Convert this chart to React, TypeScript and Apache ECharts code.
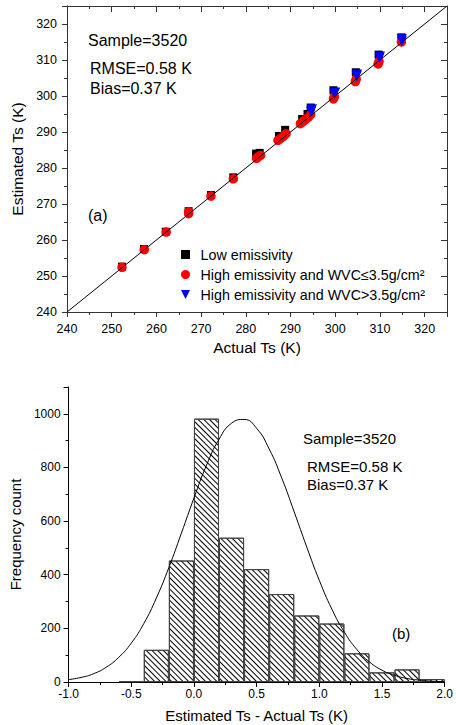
import React, { useEffect, useRef } from 'react';
import * as echarts from 'echarts';

const FONT = '"Liberation Sans", Arial, Helvetica, sans-serif';

// ---------- Panel (a): estimated vs actual Ts ----------
const lowActual = [252.3, 257.2, 262.1, 267.2, 272.2, 277.2, 282.3, 283.1, 287.4, 288.8, 292.6, 293.8, 294.5, 299.6, 304.6, 309.7, 314.8];
const lowEst = [252.6, 257.5, 262.3, 268.0, 272.5, 277.4, 284.0, 284.2, 288.9, 290.6, 293.6, 295.0, 296.8, 301.6, 306.6, 311.5, 316.3];

const dryActual = [252.3, 257.3, 262.2, 267.2, 267.2, 272.2, 277.2, 282.4, 282.8, 283.3, 287.2, 287.8, 288.4, 289.0, 292.2, 292.8, 293.4, 294.0, 294.5, 299.6, 299.8, 304.5, 304.7, 309.6, 309.8, 314.8];
const dryEst = [252.4, 257.3, 262.2, 267.3, 267.8, 272.2, 277.0, 282.7, 283.1, 283.5, 287.7, 288.2, 288.8, 289.5, 292.3, 292.9, 293.5, 294.1, 294.8, 299.2, 299.8, 304.0, 304.7, 308.9, 309.6, 315.0];

const wetActual = [294.6, 294.8, 299.8, 300.0, 304.8, 304.9, 309.9, 310.0, 314.9, 314.9];
const wetEst = [295.6, 296.3, 300.6, 301.0, 305.5, 306.0, 310.5, 311.0, 315.2, 315.8];

const oneToOne = [240, 325];

const seriesNames = [
  'Low emissivity',
  'High emissivity and WVC≤3.5g/cm²',
  'High emissivity and WVC>3.5g/cm²',
];

// ---------- Panel (b): histogram of differences ----------
const binStarts = [-1.0, -0.8, -0.6, -0.4, -0.2, 0.0, 0.2, 0.4, 0.6, 0.8, 1.0, 1.2, 1.4, 1.6, 1.8];
const binCounts = [0, 0, 3, 120, 453, 982, 538, 421, 328, 248, 218, 107, 36, 47, 11];

const fitX = [-1.0, -0.9, -0.8, -0.7, -0.6, -0.5, -0.4, -0.3, -0.2, -0.1, 0.0, 0.1, 0.2, 0.3, 0.4, 0.5, 0.6, 0.7, 0.8, 0.9, 1.0, 1.1, 1.2, 1.3, 1.4, 1.5, 1.6, 1.7, 1.8, 1.9, 2.0];
const fitY = [9, 17, 31, 55, 92, 145, 218, 313, 427, 555, 686, 808, 905, 965, 979, 946, 869, 761, 634, 503, 379, 272, 186, 121, 75, 44, 25, 13, 7, 3, 1.5];

const zip = (a: number[], b: number[]) => a.map((v, i) => [v, b[i]]);

const boxColor = '#333';
const blk = '#000';
const SQUARE = 'path://M0,0 L10,0 L10,10 L0,10 Z';
const TRI_DOWN = 'path://M0,0 L10,0 L5,10 Z';

function makeOption(): any {
  const textBase = { fontFamily: FONT, fill: '#000' };
  return {
    animation: false,
    textStyle: { fontFamily: FONT },
    grid: [
      { left: 67, top: 6, width: 380, height: 306 },
      { left: 53, top: 387, width: 397, height: 295 },
    ],
    legend: {
      data: seriesNames,
      orient: 'vertical',
      left: 181,
      top: 247,
      padding: 0,
      itemWidth: 20,
      itemHeight: 9,
      itemGap: 5,
      symbolKeepAspect: true,
      textStyle: { fontSize: 14.3, color: '#000', fontFamily: FONT, lineHeight: 15 },
    },
    xAxis: [
      {
        gridIndex: 0, type: 'value', min: 240, max: 325, interval: 10, position: 'bottom',
        name: 'Actual Ts (K)', nameLocation: 'middle', nameGap: 27,
        nameTextStyle: { fontSize: 15.5, color: '#000', fontFamily: FONT },
        axisLine: { onZero: false, lineStyle: { color: boxColor, width: 1 } },
        axisTick: { inside: false, length: 5, lineStyle: { color: boxColor } },
        minorTick: { show: true, splitNumber: 2, length: 3, lineStyle: { color: boxColor } },
        axisLabel: { fontSize: 12.5, color: '#000', margin: 10, showMaxLabel: false, fontFamily: FONT },
        splitLine: { show: false },
      },
      {
        gridIndex: 0, type: 'value', min: 240, max: 325, interval: 10, position: 'top',
        axisLine: { onZero: false, lineStyle: { color: boxColor, width: 1 } },
        axisTick: { inside: true, length: 6, lineStyle: { color: boxColor } },
        minorTick: { show: true, splitNumber: 2, length: 3, lineStyle: { color: boxColor } },
        axisLabel: { show: false },
        splitLine: { show: false },
      },
      {
        gridIndex: 1, type: 'value', min: -1, max: 2, interval: 0.5, position: 'bottom',
        name: 'Estimated Ts - Actual Ts (K)', nameLocation: 'middle', nameGap: 26,
        nameTextStyle: { fontSize: 15, color: '#000', fontFamily: FONT },
        axisLine: { onZero: false, lineStyle: { color: blk, width: 1 } },
        axisTick: { inside: false, length: 5, lineStyle: { color: blk } },
        minorTick: { show: true, splitNumber: 2, length: 3, lineStyle: { color: blk } },
        axisLabel: { fontSize: 12, color: '#000', margin: 6, fontFamily: FONT, formatter: (v: number) => v.toFixed(1) },
        splitLine: { show: false },
      },
      {
        gridIndex: 1, type: 'category', data: binStarts.map((b) => b.toFixed(1)), show: false, boundaryGap: true,
      },
    ],
    yAxis: [
      {
        gridIndex: 0, type: 'value', min: 240, max: 325, interval: 10, position: 'left',
        name: 'Estimated Ts (K)', nameLocation: 'middle', nameGap: 32,
        nameTextStyle: { fontSize: 15.5, color: '#000', fontFamily: FONT },
        axisLine: { onZero: false, lineStyle: { color: boxColor, width: 1 } },
        axisTick: { inside: false, length: 5, lineStyle: { color: boxColor } },
        minorTick: { show: true, splitNumber: 2, length: 3, lineStyle: { color: boxColor } },
        axisLabel: { fontSize: 12.5, color: '#000', margin: 10, showMaxLabel: false, fontFamily: FONT },
        splitLine: { show: false },
      },
      {
        gridIndex: 0, type: 'value', min: 240, max: 325, interval: 10, position: 'right',
        axisLine: { show: true, onZero: false, lineStyle: { color: boxColor, width: 1 } },
        axisTick: { show: true, inside: true, length: 6, lineStyle: { color: boxColor } },
        minorTick: { show: true, splitNumber: 2, length: 3, lineStyle: { color: boxColor } },
        axisLabel: { show: false },
        splitLine: { show: false },
      },
      {
        gridIndex: 1, type: 'value', min: 0, max: 1100, interval: 200, position: 'left',
        name: 'Frequency count', nameLocation: 'middle', nameGap: 42,
        nameTextStyle: { fontSize: 15, color: '#000', fontFamily: FONT },
        axisLine: { show: true, onZero: false, lineStyle: { color: blk, width: 1 } },
        axisTick: { show: true, inside: false, length: 5, lineStyle: { color: blk } },
        minorTick: { show: true, splitNumber: 2, length: 3, lineStyle: { color: blk } },
        axisLabel: { fontSize: 12, color: '#000', margin: 8, showMaxLabel: false, fontFamily: FONT, formatter: (v: number) => String(v) },
        splitLine: { show: false },
      },
    ],
    series: [
      {
        name: seriesNames[0], type: 'scatter', xAxisIndex: 0, yAxisIndex: 0,
        symbol: SQUARE, symbolSize: 8, itemStyle: { color: '#000', opacity: 1 },
        data: zip(lowActual, lowEst), z: 2,
      },
      {
        name: seriesNames[1], type: 'scatter', xAxisIndex: 0, yAxisIndex: 0,
        symbol: 'circle', symbolSize: 9.5, itemStyle: { color: '#ff0000', opacity: 1 },
        data: zip(dryActual, dryEst), z: 3,
      },
      {
        name: seriesNames[2], type: 'scatter', xAxisIndex: 0, yAxisIndex: 0,
        symbol: TRI_DOWN, symbolSize: [10, 10], itemStyle: { color: '#0000ff', opacity: 1 },
        data: zip(wetActual, wetEst), z: 4,
      },
      {
        name: '1:1 line', type: 'line', xAxisIndex: 0, yAxisIndex: 0,
        data: zip(oneToOne, oneToOne), symbol: 'none', silent: true,
        lineStyle: { color: '#000', width: 1 }, z: 5,
      },
      {
        name: 'Histogram', type: 'bar', xAxisIndex: 3, yAxisIndex: 2,
        data: binCounts.map((c) => (c > 0 ? c : '-')),
        barWidth: '100%', barCategoryGap: '0%',
        itemStyle: {
          color: '#ffffff', borderColor: '#444', borderWidth: 1,
          decal: {
            symbol: 'rect', symbolSize: 1, color: '#000', backgroundColor: null,
            dashArrayX: [1, 0], dashArrayY: [1, 2.2], rotation: Math.PI / 4,
          },
        },
        z: 2,
      },
      {
        name: 'Gaussian fit', type: 'line', xAxisIndex: 2, yAxisIndex: 2,
        data: zip(fitX, fitY), symbol: 'none', smooth: true, silent: true,
        lineStyle: { color: '#000', width: 1 }, z: 5,
      },
    ],
    graphic: [
      { type: 'text', x: 88, y: 40, style: { ...textBase, text: 'Sample=3520', fontSize: 16, verticalAlign: 'middle' } },
      { type: 'text', x: 90, y: 68, style: { ...textBase, text: 'RMSE=0.58 K', fontSize: 16, verticalAlign: 'middle' } },
      { type: 'text', x: 90, y: 88, style: { ...textBase, text: 'Bias=0.37 K', fontSize: 16, verticalAlign: 'middle' } },
      { type: 'text', x: 88, y: 215, style: { ...textBase, text: '(a)', fontSize: 16, verticalAlign: 'middle' } },
      { type: 'text', x: 303, y: 438, style: { ...textBase, text: 'Sample=3520', fontSize: 15, verticalAlign: 'middle' } },
      { type: 'text', x: 307, y: 466, style: { ...textBase, text: 'RMSE=0.58 K', fontSize: 15, verticalAlign: 'middle' } },
      { type: 'text', x: 307, y: 484, style: { ...textBase, text: 'Bias=0.37 K', fontSize: 15, verticalAlign: 'middle' } },
      { type: 'text', x: 392, y: 633, style: { ...textBase, text: '(b)', fontSize: 15, verticalAlign: 'middle' } },
    ],
  };
}

export default function App() {
  const ref = useRef<HTMLDivElement>(null);
  useEffect(() => {
    if (!ref.current) return;
    const chart = echarts.init(ref.current, undefined, { renderer: 'svg' });
    chart.setOption(makeOption());
    return () => chart.dispose();
  }, []);
  return (
    <div
      ref={ref}
      style={{ position: 'absolute', left: 0, top: 0, width: 456, height: 725, background: '#fff' }}
    />
  );
}
